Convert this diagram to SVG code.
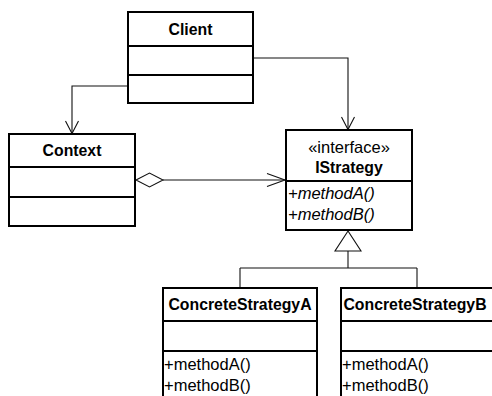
<svg xmlns="http://www.w3.org/2000/svg" width="492" height="396" viewBox="0 0 492 396">
  <style>
    .box { fill: #ffffff; stroke: #000000; stroke-width: 2; }
    .div { stroke: #000000; stroke-width: 2; }
    .link { fill: none; stroke: #111111; stroke-width: 1.1; }
    .head { fill: none; stroke: #111111; stroke-width: 1.1; }
    .hollow { fill: #ffffff; stroke: #111111; stroke-width: 1.1; }
    text { font-family: "Liberation Sans", Arial, sans-serif; fill: #000000; }
    .title { font-size: 15.8px; font-weight: bold; }
    .member { font-size: 16.5px; }
    .abstract { font-size: 16.5px; font-style: italic; }
  </style>

  <rect width="492" height="396" fill="#ffffff"/>

  <!-- connectors -->
  <g id="connectors">
    <!-- Client -> Context -->
    <polyline class="link" points="128,86 72,86 72,133"/>
    <polyline class="head" points="65.5,121 72,133.5 78.5,121"/>
    <!-- Client -> IStrategy -->
    <polyline class="link" points="253,58 348,58 348,129"/>
    <polyline class="head" points="341.5,117 348,129.5 354.5,117"/>
    <!-- Context <>-> IStrategy (aggregation) -->
    <line class="link" x1="163" y1="180" x2="285" y2="180"/>
    <polyline class="head" points="267,173.5 285,180 267,186.5"/>
    <polygon class="hollow" points="136,180 149.5,173 163,180 149.5,187"/>
    <!-- realization / generalization tree -->
    <polygon class="hollow" points="348,231 335,251 361,251"/>
    <line class="link" x1="348" y1="251" x2="348" y2="268"/>
    <line class="link" x1="240" y1="268" x2="417" y2="268"/>
    <line class="link" x1="240" y1="268" x2="240" y2="288"/>
    <line class="link" x1="417" y1="268" x2="417" y2="288"/>
  </g>

  <!-- Client -->
  <g id="client">
    <rect class="box" x="128" y="12" width="125" height="91"/>
    <line class="div" x1="128" y1="46" x2="253" y2="46"/>
    <line class="div" x1="128" y1="75" x2="253" y2="75"/>
    <text class="title" x="190.5" y="35" text-anchor="middle">Client</text>
  </g>

  <!-- Context -->
  <g id="context">
    <rect class="box" x="9" y="134" width="126" height="92"/>
    <line class="div" x1="9" y1="167" x2="135" y2="167"/>
    <line class="div" x1="9" y1="197" x2="135" y2="197"/>
    <text class="title" x="72" y="156" text-anchor="middle">Context</text>
  </g>

  <!-- IStrategy -->
  <g id="istrategy">
    <rect class="box" x="286" y="130" width="126" height="100"/>
    <line class="div" x1="286" y1="181" x2="412" y2="181"/>
    <text class="member" x="349" y="153" text-anchor="middle">«interface»</text>
    <text class="title" x="349" y="173" text-anchor="middle">IStrategy</text>
    <text class="abstract" x="288" y="199">+methodA()</text>
    <text class="abstract" x="288" y="220">+methodB()</text>
  </g>

  <!-- ConcreteStrategyA -->
  <g id="concrete-a">
    <rect class="box" x="163" y="288" width="154" height="120"/>
    <line class="div" x1="163" y1="321" x2="317" y2="321"/>
    <line class="div" x1="163" y1="351" x2="317" y2="351"/>
    <text class="title" x="240" y="310" text-anchor="middle">ConcreteStrategyA</text>
    <text class="member" x="164" y="370">+methodA()</text>
    <text class="member" x="164" y="391">+methodB()</text>
  </g>

  <!-- ConcreteStrategyB -->
  <g id="concrete-b">
    <rect class="box" x="341" y="288" width="160" height="120"/>
    <line class="div" x1="341" y1="321" x2="501" y2="321"/>
    <line class="div" x1="341" y1="351" x2="501" y2="351"/>
    <text class="title" x="415" y="310" text-anchor="middle">ConcreteStrategyB</text>
    <text class="member" x="342" y="370">+methodA()</text>
    <text class="member" x="342" y="391">+methodB()</text>
  </g>
</svg>
